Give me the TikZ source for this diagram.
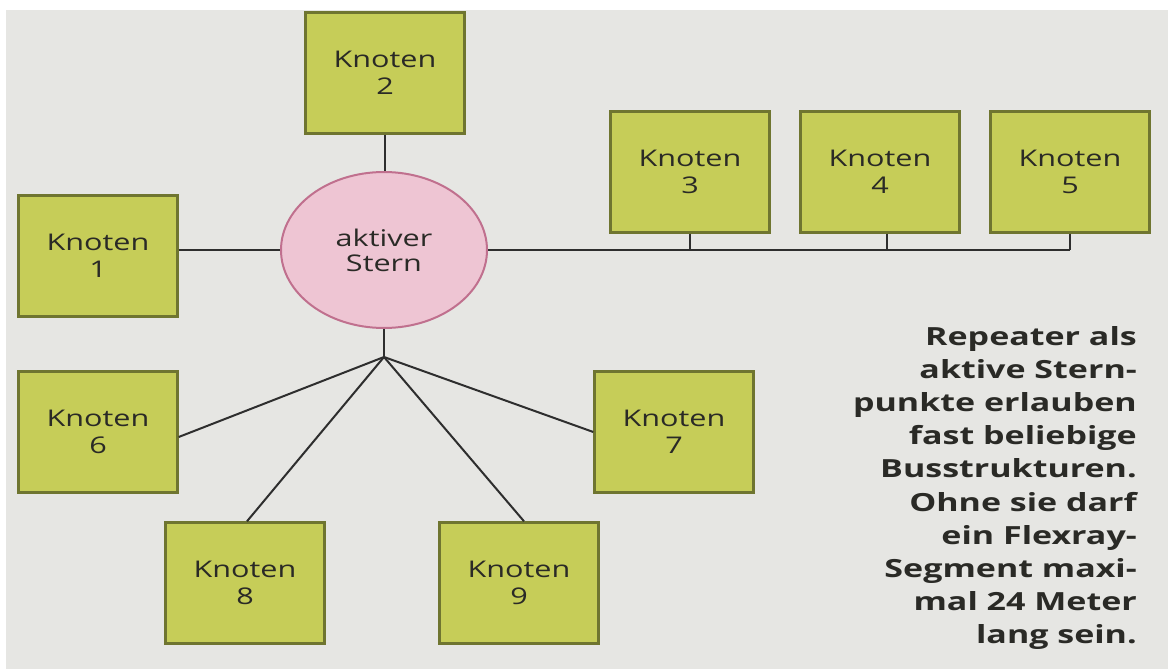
\documentclass[tikz,border=0pt]{standalone}
\usepackage{fontspec}
\setmainfont{Open Sans}
\newfontfamily\boxfont[FakeStretch=1.33]{Open Sans}
\newfontfamily\capfont[FakeStretch=1.36]{Open Sans Bold}
\usetikzlibrary{shapes.geometric}
\definecolor{bgc}{HTML}{E6E6E3}
\definecolor{boxfill}{HTML}{C6CD58}
\definecolor{boxline}{HTML}{6F7530}
\definecolor{starfill}{HTML}{EEC5D3}
\definecolor{starline}{HTML}{C0708E}
\definecolor{wire}{HTML}{2E2E2E}
\definecolor{txt}{HTML}{2A2A26}
\tikzset{
  knoten/.style={rectangle, draw=boxline, fill=boxfill, line width=2.4pt,
    minimum width=159pt, minimum height=121pt, inner sep=0pt, align=center,
    text=txt, font=\boxfont\fontsize{23}{27}\selectfont},
  stern/.style={ellipse, draw=starline, fill=starfill, line width=2pt,
    minimum width=206pt, minimum height=156pt, inner sep=0pt, align=center,
    text=txt, font=\boxfont\fontsize{23}{25}\selectfont},
  wireline/.style={draw=wire, line width=2pt},
  caption/.style={anchor=north east, align=right, inner sep=0pt, text=txt,
    font=\capfont\fontsize{25}{33.2}\selectfont}
}
\begin{document}
\begin{tikzpicture}[x=1pt, y=-1pt]
\useasboundingbox (0,0) rectangle (1168,669);
\fill[white] (0,0) rectangle (1168,669);
\fill[bgc] (6,10) rectangle (1168,669);

\node[stern] (star) at (384,250) {aktiver\\Stern};
\node[knoten] (k1) at (98,256) {Knoten\\1};
\node[knoten] (k2) at (385,73) {Knoten\\2};
\node[knoten] (k3) at (690,172) {Knoten\\3};
\node[knoten] (k4) at (880,172) {Knoten\\4};
\node[knoten] (k5) at (1070,172) {Knoten\\5};
\node[knoten] (k6) at (98,432) {Knoten\\6};
\node[knoten] (k7) at (674,432) {Knoten\\7};
\node[knoten] (k8) at (245,583) {Knoten\\8};
\node[knoten] (k9) at (519,583) {Knoten\\9};
\coordinate (J) at (384,357);

% connectors
\draw[wireline] (k2.south) -- (k2.south |- star.north);
\draw[wireline] (k1.east |- star.west) -- (star.west);
\draw[wireline] (star.east) -- (k5.south |- star.east);
\draw[wireline] (k3.south) -- (k3.south |- star.east);
\draw[wireline] ([xshift=7pt]k4.south) -- ([xshift=7pt]k4.south |- star.east);
\draw[wireline] (k5.south) -- (k5.south |- star.east);
\draw[wireline] (star.south) -- (J);
\draw[wireline] (J) -- ([yshift=-5pt]k6.east);
\draw[wireline] (J) -- (k7.west);
\draw[wireline] (J) -- ([xshift=2pt]k8.north);
\draw[wireline] (J) -- ([xshift=5pt]k9.north);

\node[caption] (cap) at (1137,326) {Repeater als\\aktive Stern-\\punkte erlauben\\fast beliebige\\Busstrukturen.\\Ohne sie darf\\ein Flexray-\\Segment maxi-\\mal 24 Meter\\lang sein.};
\end{tikzpicture}
\end{document}
